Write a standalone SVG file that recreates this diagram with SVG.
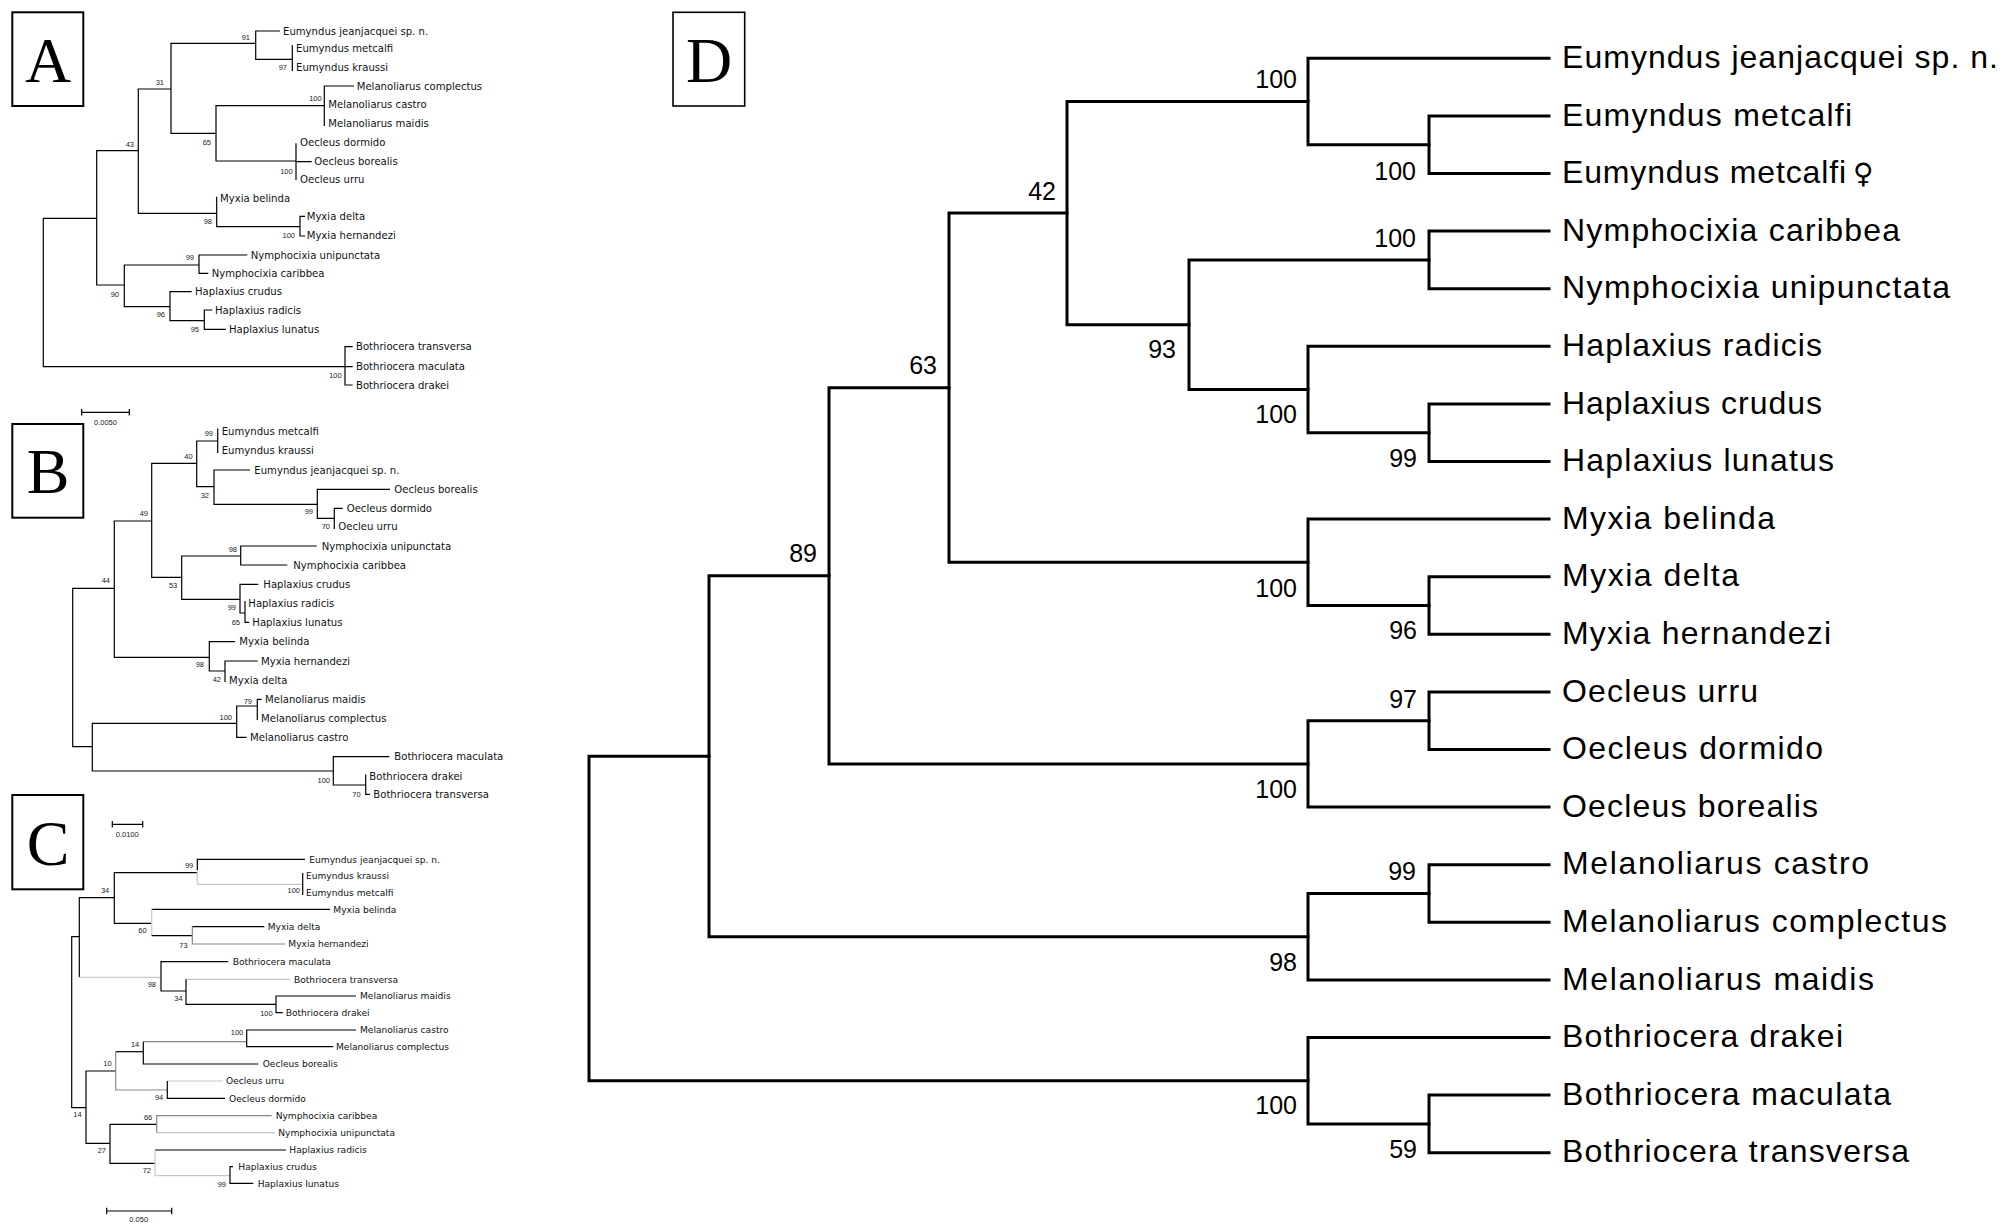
<svg xmlns="http://www.w3.org/2000/svg" width="2010" height="1229" viewBox="0 0 2010 1229">
<style>
.bg{fill:#fff}
.box{fill:#fff;stroke:#000;stroke-width:2}
.boxD{fill:#fff;stroke:#000;stroke-width:1.6}
.big{font-family:"Liberation Serif","Times New Roman",serif;font-size:64px;fill:#000;text-anchor:middle}
.br{fill:none;stroke:#000;stroke-width:1.2}
.brg{fill:none;stroke:#888;stroke-width:1.2}
.brl{fill:none;stroke:#c8c8c8;stroke-width:1.2}
.brD{fill:none;stroke:#000;stroke-width:3;stroke-linecap:square}
.lf{font-family:"DejaVu Sans",Verdana,sans-serif;font-size:10.1px;fill:#111}
.lfc{font-family:"DejaVu Sans",Verdana,sans-serif;font-size:9.1px;fill:#111}
.bs{font-family:"Liberation Sans",Arial,sans-serif;font-size:7.5px;fill:#222;text-anchor:end}
.sc{font-family:"Liberation Sans",Arial,sans-serif;font-size:7.5px;fill:#222;text-anchor:middle}
.lfD{font-family:"Liberation Sans",Arial,sans-serif;font-size:32px;fill:#000}
.bsD{font-family:"Liberation Sans",Arial,sans-serif;font-size:25px;fill:#000;text-anchor:end}
</style>
<rect class="bg" x="0" y="0" width="2010" height="1229"/>

<!-- Panel letters -->
<g id="label-A"><rect class="box" x="12.3" y="12.3" width="71" height="93.7"/><text class="big" x="48" y="82">A</text></g>
<g id="label-B"><rect class="box" x="12.3" y="424" width="71" height="93.7"/><text class="big" x="48" y="493">B</text></g>
<g id="label-C"><rect class="box" x="12.3" y="795" width="71" height="94.3"/><text class="big" x="48" y="865">C</text></g>
<g id="label-D"><rect class="boxD" x="673" y="12.3" width="71.7" height="93.7"/><text class="big" x="709" y="82">D</text></g>

<!-- ===== Panel A ===== -->
<g id="connectors-A">
<path class="br" d="M96.7,218.3 H43.3 V366.7 H352.7"/>
<path class="br" d="M138.3,150.7 H96.7 V285 H124.3"/>
<path class="br" d="M171,89 H138.3 V213.3 H216.7"/>
<path class="br" d="M255.7,43.3 H171 V133.3 H216"/>
<path class="br" d="M280,31 H255.7 V59.3 H292.3"/>
<path class="br" d="M292.3,45 V71"/>
<path class="br" d="M324.3,105.7 H216 V161 H296"/>
<path class="br" d="M354,86 H324.3 V126"/>
<path class="br" d="M296,143.3 V180 M296,161.7 H311.7"/>
<path class="br" d="M216.7,196.7 V226.7 H300"/>
<path class="br" d="M305,216.3 H300 V236 H305"/>
<path class="br" d="M199,265 H124.3 V306.7 H170"/>
<path class="br" d="M247.3,255 H199 V273.3 H208.3"/>
<path class="br" d="M191.7,291.7 H170 V320.7 H204.3"/>
<path class="br" d="M212.3,310 H204.3 V329.3 H226"/>
<path class="br" d="M352.7,346.7 H345 V385 H352.7"/>
<path class="br" d="M81.7,412.3 H129.3 M81.7,409 V415.6 M129.3,409 V415.6"/>
</g>
<g id="leaves-A" class="lf">
<text x="283" y="34.5">Eumyndus jeanjacquei sp. n.</text>
<text x="296" y="51.8">Eumyndus metcalfi</text>
<text x="296" y="71.2">Eumyndus kraussi</text>
<text x="356.7" y="89.5">Melanoliarus complectus</text>
<text x="328.3" y="107.8">Melanoliarus castro</text>
<text x="328.3" y="126.8">Melanoliarus maidis</text>
<text x="300" y="145.8">Oecleus dormido</text>
<text x="314.3" y="165.2">Oecleus borealis</text>
<text x="300" y="182.8">Oecleus urru</text>
<text x="220" y="201.8">Myxia belinda</text>
<text x="306.7" y="220.2">Myxia delta</text>
<text x="306.7" y="238.5">Myxia hernandezi</text>
<text x="250.7" y="258.5">Nymphocixia unipunctata</text>
<text x="211.7" y="276.8">Nymphocixia caribbea</text>
<text x="195" y="295.2">Haplaxius crudus</text>
<text x="215" y="313.5">Haplaxius radicis</text>
<text x="229" y="332.8">Haplaxius lunatus</text>
<text x="356" y="350.2">Bothriocera transversa</text>
<text x="356" y="370.2">Bothriocera maculata</text>
<text x="356" y="388.5">Bothriocera drakei</text>
</g>
<g id="support-A" class="bs">
<text x="250" y="40">91</text>
<text x="287" y="69.7">97</text>
<text x="164" y="84.5">31</text>
<text x="321.7" y="100.7">100</text>
<text x="134" y="147">43</text>
<text x="211" y="145">65</text>
<text x="292.7" y="174">100</text>
<text x="212" y="224.3">98</text>
<text x="295" y="237.7">100</text>
<text x="194" y="260">99</text>
<text x="119" y="297">90</text>
<text x="165" y="317.3">96</text>
<text x="199" y="331.7">95</text>
<text x="341.7" y="378.3">100</text>
</g>
<text class="sc" x="105.5" y="425">0.0050</text>

<!-- ===== Panel B ===== -->
<g id="connectors-B">
<path class="br" d="M114.3,588.3 H72.7 V746.7 H92.3"/>
<path class="br" d="M151.7,521 H114.3 V657.3 H209.3"/>
<path class="br" d="M196.7,463.3 H151.7 V577.3 H181.7"/>
<path class="br" d="M217.7,441 H196.7 V486.7 H214"/>
<path class="br" d="M217.7,428.5 V453"/>
<path class="br" d="M250,470 H214 V504.3 H317.3"/>
<path class="br" d="M390,489.3 H317.3 V518.3 H334.3"/>
<path class="br" d="M342.7,508.3 H334.3 V529"/>
<path class="br" d="M240.7,556 H181.7 V599.3 H240"/>
<path class="br" d="M316.7,546 H240.7 V565 H287.3"/>
<path class="br" d="M258.3,584.3 H240 V613 H245"/>
<path class="br" d="M245,601 V622.3 H249.3"/>
<path class="br" d="M235,641.7 H209.3 V671 H225"/>
<path class="br" d="M257.7,661 H225 V682"/>
<path class="br" d="M236.7,723.3 H92.3 V771 H333.3"/>
<path class="br" d="M257.3,706 H236.7 V737.3 H246.7"/>
<path class="br" d="M261.7,699.3 H257.3 V720"/>
<path class="br" d="M389.3,756.7 H333.3 V785 H365.7"/>
<path class="br" d="M365.7,774.5 V794.3 H370"/>
</g>
<g id="leaves-B" class="lf">
<text x="221.7" y="435.2">Eumyndus metcalfi</text>
<text x="221.7" y="453.5">Eumyndus kraussi</text>
<text x="254.3" y="473.5">Eumyndus jeanjacquei sp. n.</text>
<text x="394.3" y="492.8">Oecleus borealis</text>
<text x="346.7" y="511.8">Oecleus dormido</text>
<text x="338.3" y="530.2">Oecleu urru</text>
<text x="321.7" y="549.5">Nymphocixia unipunctata</text>
<text x="293.3" y="568.5">Nymphocixia caribbea</text>
<text x="263.3" y="587.8">Haplaxius crudus</text>
<text x="248.3" y="607">Haplaxius radicis</text>
<text x="252.3" y="625.8">Haplaxius lunatus</text>
<text x="239.3" y="645.2">Myxia belinda</text>
<text x="261" y="664.5">Myxia hernandezi</text>
<text x="229" y="683.5">Myxia delta</text>
<text x="265" y="702.8">Melanoliarus maidis</text>
<text x="261" y="721.8">Melanoliarus complectus</text>
<text x="250" y="740.8">Melanoliarus castro</text>
<text x="394.3" y="760.2">Bothriocera maculata</text>
<text x="369.3" y="779.5">Bothriocera drakei</text>
<text x="373.3" y="797.8">Bothriocera transversa</text>
</g>
<g id="support-B" class="bs">
<text x="213" y="436">99</text>
<text x="192.7" y="459.3">40</text>
<text x="209" y="497.7">32</text>
<text x="313" y="514">99</text>
<text x="330" y="529.3">70</text>
<text x="148" y="516">49</text>
<text x="237" y="551.7">98</text>
<text x="177.3" y="588.3">53</text>
<text x="236" y="610">99</text>
<text x="240" y="625">65</text>
<text x="110" y="583.3">44</text>
<text x="204" y="666.7">98</text>
<text x="221" y="681.7">42</text>
<text x="252" y="704">79</text>
<text x="232" y="720">100</text>
<text x="330" y="782.7">100</text>
<text x="360.7" y="796.7">70</text>
</g>

<!-- ===== Panel C ===== -->
<g id="connectors-C">
<path class="br" d="M112.3,824.3 H142.7 M112.3,821 V827.6 M142.7,821 V827.6"/>
<path class="br" d="M79.3,936.7 H71.7 V1107.7 H86"/>
<path class="br" d="M114.3,897.7 H79.3 V977.3"/>
<path class="brl" d="M79.3,977.3 H161"/>
<path class="br" d="M197.3,872.7 H114.3 V923.3 H151.7"/>
<path class="br" d="M305,859.3 H197.3 V870"/>
<path class="brl" d="M197.3,870 V884.3 H302.7"/>
<path class="br" d="M302.7,873 V895"/>
<path class="br" d="M330,909.3 H151.7"/>
<path class="brl" d="M151.7,909.3 V935.7"/>
<path class="br" d="M151.7,935.7 H192.3"/>
<path class="br" d="M264.3,926.7 H192.3"/>
<path class="brg" d="M192.3,926.7 V944 H285"/>
<path class="br" d="M228.3,961.7 H161 V991 H186"/>
<path class="brl" d="M290,979.3 H186"/>
<path class="br" d="M186,979.3 V1004.3 H276"/>
<path class="br" d="M356,996 H276 V1012.7 H282.7"/>
<path class="br" d="M115.7,1071 H86 V1143.3 H110"/>
<path class="br" d="M143.3,1051.7 H115.7"/>
<path class="brg" d="M115.7,1051.7 V1090 H167.3"/>
<path class="brg" d="M246.7,1041.7 H143.3"/>
<path class="br" d="M143.3,1041.7 V1064 H258.3"/>
<path class="br" d="M356,1030 H246.7 V1046.7 H333.3"/>
<path class="brl" d="M222.7,1081 H167.3"/>
<path class="br" d="M167.3,1081 V1098.3 H225"/>
<path class="br" d="M156.7,1124.3 H110 V1163.3 H155"/>
<path class="brg" d="M271.7,1115.7 H156.7 V1132.7"/>
<path class="brl" d="M156.7,1132.7 H275"/>
<path class="br" d="M286,1150 H155"/>
<path class="brl" d="M155,1150 V1175.7 H230"/>
<path class="br" d="M233,1166.7 H230 V1183.3 H253.3"/>
<path class="br" d="M106.7,1211 H171.7 M106.7,1207.7 V1214.3 M171.7,1207.7 V1214.3"/>
</g>
<g id="leaves-C" class="lfc">
<text x="309.3" y="862.5">Eumyndus jeanjacquei sp. n.</text>
<text x="306" y="878.9">Eumyndus kraussi</text>
<text x="306" y="895.5">Eumyndus metcalfi</text>
<text x="333.3" y="912.5">Myxia belinda</text>
<text x="267.7" y="929.9">Myxia delta</text>
<text x="288.3" y="947.2">Myxia hernandezi</text>
<text x="232.7" y="964.9">Bothriocera maculata</text>
<text x="294" y="982.5">Bothriocera transversa</text>
<text x="360" y="999.2">Melanoliarus maidis</text>
<text x="285.7" y="1015.9">Bothriocera drakei</text>
<text x="360" y="1033.2">Melanoliarus castro</text>
<text x="336" y="1049.9">Melanoliarus complectus</text>
<text x="262.7" y="1067.2">Oecleus borealis</text>
<text x="226" y="1084.2">Oecleus urru</text>
<text x="229" y="1101.5">Oecleus dormido</text>
<text x="275.7" y="1118.9">Nymphocixia caribbea</text>
<text x="278.3" y="1135.9">Nymphocixia unipunctata</text>
<text x="289.3" y="1153.2">Haplaxius radicis</text>
<text x="238.3" y="1169.9">Haplaxius crudus</text>
<text x="257.7" y="1186.5">Haplaxius lunatus</text>
</g>
<g id="support-C" class="bs">
<text x="193.3" y="867.7">99</text>
<text x="300" y="893.3">100</text>
<text x="109.3" y="893.3">34</text>
<text x="146.7" y="933.3">60</text>
<text x="187.7" y="948.3">73</text>
<text x="156" y="987.3">98</text>
<text x="182.7" y="1001">34</text>
<text x="272.7" y="1015.7">100</text>
<text x="243.3" y="1035">100</text>
<text x="139.3" y="1046.7">14</text>
<text x="111.7" y="1066">10</text>
<text x="163.3" y="1100">94</text>
<text x="81.7" y="1117.3">14</text>
<text x="152.3" y="1120">66</text>
<text x="106" y="1153.3">27</text>
<text x="151" y="1173.3">72</text>
<text x="226" y="1186.7">99</text>
</g>
<text class="sc" x="127.2" y="836.7">0.0100</text>
<text class="sc" x="138.7" y="1221.7">0.050</text>

<!-- ===== Panel D ===== -->
<g id="connectors-D" class="brD">
<path d="M709,756.25 H589 V1080.7 H1308"/>
<path d="M829,575.8 H709 V936.7 H1308"/>
<path d="M949,387.7 H829 V763.9 H1308"/>
<path d="M1067,213.1 H949 V562.3 H1308"/>
<path d="M1308,101.5 H1067 V324.7 H1189"/>
<path d="M1429,259.9 H1189 V389.5 H1308"/>
<path d="M1549,58.3 H1308 V144.7 H1429"/>
<path d="M1549,115.9 H1429 V173.5 H1549"/>
<path d="M1549,231.1 H1429 V288.7 H1549"/>
<path d="M1549,346.3 H1308 V432.7 H1429"/>
<path d="M1549,403.9 H1429 V461.5 H1549"/>
<path d="M1549,519.1 H1308 V605.5 H1429"/>
<path d="M1549,576.7 H1429 V634.3 H1549"/>
<path d="M1429,720.7 H1308 V807.1 H1549"/>
<path d="M1549,691.9 H1429 V749.5 H1549"/>
<path d="M1429,893.5 H1308 V979.9 H1549"/>
<path d="M1549,864.7 H1429 V922.3 H1549"/>
<path d="M1549,1037.5 H1308 V1123.9 H1429"/>
<path d="M1549,1095.1 H1429 V1152.7 H1549"/>
</g>
<g id="leaves-D" class="lfD">
<text x="1562" y="68" textLength="436" lengthAdjust="spacing">Eumyndus jeanjacquei sp. n.</text>
<text x="1562" y="125.6" textLength="290" lengthAdjust="spacing">Eumyndus metcalfi</text>
<text x="1562" y="183.2" textLength="284" lengthAdjust="spacing">Eumyndus metcalfi</text>
<text x="1853" y="183.2" style="font-family:'DejaVu Sans',sans-serif;font-size:28px">♀</text>
<text x="1562" y="240.8" textLength="338" lengthAdjust="spacing">Nymphocixia caribbea</text>
<text x="1562" y="298.4" textLength="388" lengthAdjust="spacing">Nymphocixia unipunctata</text>
<text x="1562" y="356" textLength="260" lengthAdjust="spacing">Haplaxius radicis</text>
<text x="1562" y="413.6" textLength="260" lengthAdjust="spacing">Haplaxius crudus</text>
<text x="1562" y="471.2" textLength="272" lengthAdjust="spacing">Haplaxius lunatus</text>
<text x="1562" y="528.8" textLength="213" lengthAdjust="spacing">Myxia belinda</text>
<text x="1562" y="586.4" textLength="177" lengthAdjust="spacing">Myxia delta</text>
<text x="1562" y="644" textLength="269" lengthAdjust="spacing">Myxia hernandezi</text>
<text x="1562" y="701.6" textLength="196" lengthAdjust="spacing">Oecleus urru</text>
<text x="1562" y="759.2" textLength="261" lengthAdjust="spacing">Oecleus dormido</text>
<text x="1562" y="816.8" textLength="256" lengthAdjust="spacing">Oecleus borealis</text>
<text x="1562" y="874.4" textLength="307" lengthAdjust="spacing">Melanoliarus castro</text>
<text x="1562" y="932" textLength="385" lengthAdjust="spacing">Melanoliarus complectus</text>
<text x="1562" y="989.6" textLength="312" lengthAdjust="spacing">Melanoliarus maidis</text>
<text x="1562" y="1047.2" textLength="281" lengthAdjust="spacing">Bothriocera drakei</text>
<text x="1562" y="1104.8" textLength="329" lengthAdjust="spacing">Bothriocera maculata</text>
<text x="1562" y="1162.4" textLength="347" lengthAdjust="spacing">Bothriocera transversa</text>
</g>
<g id="support-D" class="bsD">
<text x="1297" y="88">100</text>
<text x="1416" y="180">100</text>
<text x="1056" y="200">42</text>
<text x="1416" y="247">100</text>
<text x="1176" y="358">93</text>
<text x="937" y="374">63</text>
<text x="1297" y="423">100</text>
<text x="1417" y="467">99</text>
<text x="817" y="562">89</text>
<text x="1297" y="597">100</text>
<text x="1417" y="639">96</text>
<text x="1417" y="708">97</text>
<text x="1297" y="798">100</text>
<text x="1416" y="880">99</text>
<text x="1297" y="971">98</text>
<text x="1297" y="1114">100</text>
<text x="1417" y="1158">59</text>
</g>
</svg>
